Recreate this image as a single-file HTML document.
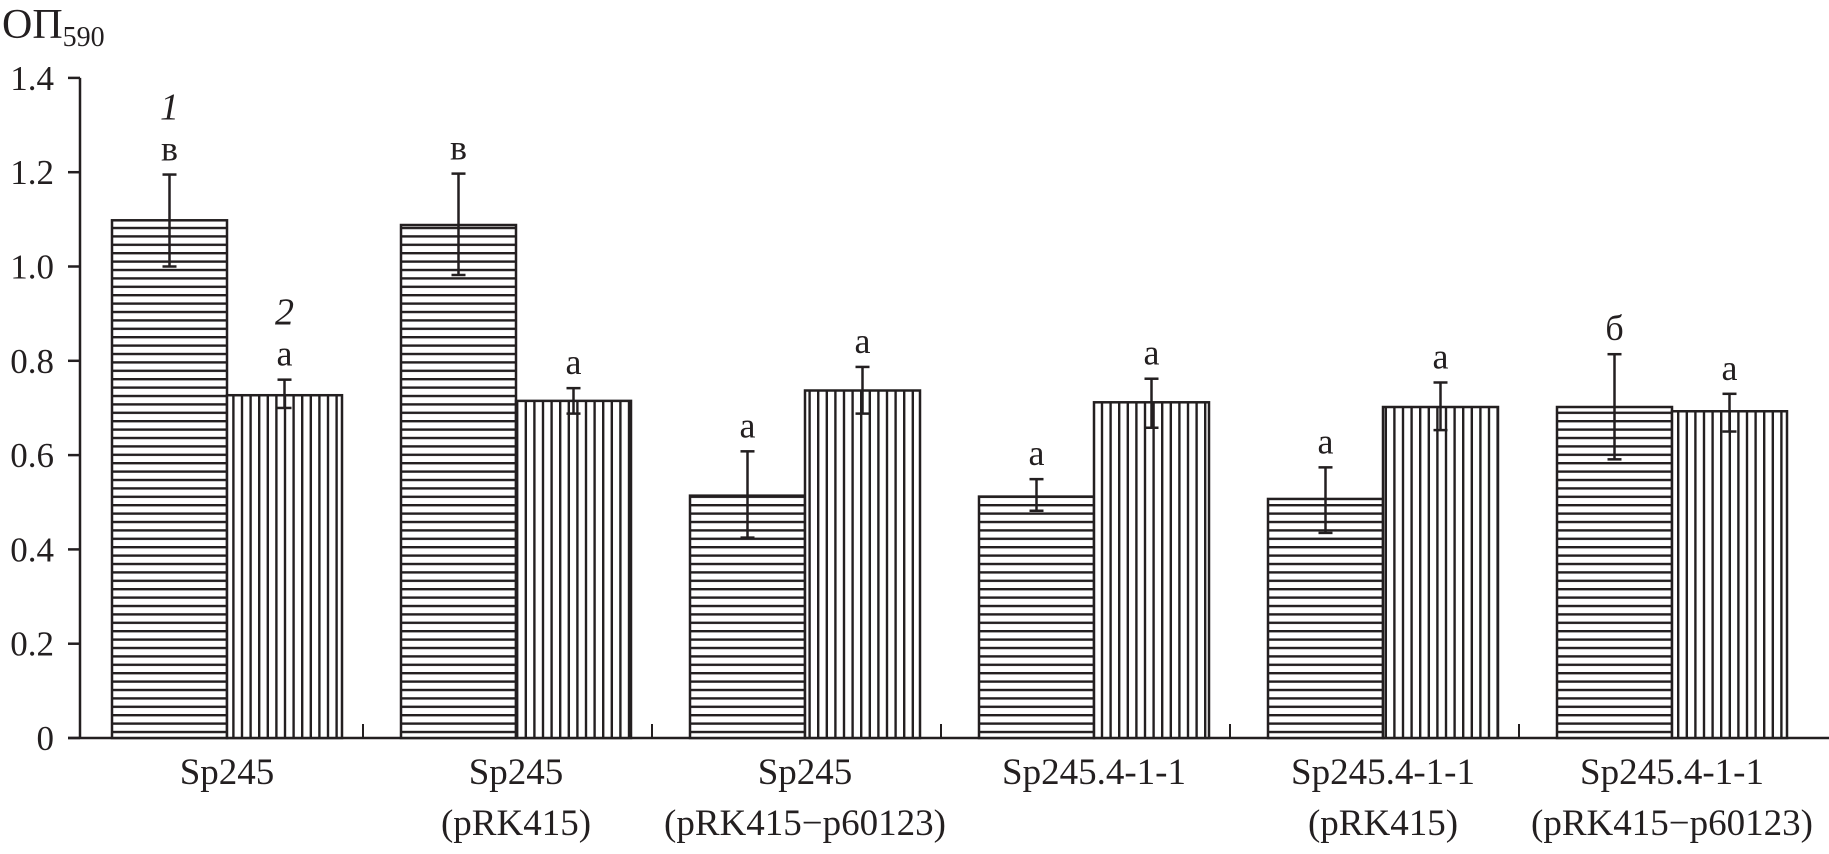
<!DOCTYPE html>
<html><head><meta charset="utf-8"><style>
body{margin:0;background:#fff}
svg text{font-family:"Liberation Serif",serif;fill:#231f20}
</style></head><body>
<svg id="chart" width="1829" height="849" viewBox="0 0 1829 849">
<defs>
<pattern id="ph" patternUnits="userSpaceOnUse" width="10" height="8.4"><rect width="10" height="8.4" fill="#fff"/><rect y="0" width="10" height="2.4" fill="#231f20"/></pattern>
<pattern id="pv" patternUnits="userSpaceOnUse" width="8.6" height="10"><rect width="8.6" height="10" fill="#fff"/><rect x="0" width="2.4" height="10" fill="#231f20"/></pattern>
</defs>
<text x="2" y="38" font-size="42">ОП<tspan font-size="28" dy="8">590</tspan></text>
<g id="axes"></g><g id="bars"></g>
</svg>
<script>
const categories=[["Sp245"],["Sp245","(pRK415)"],["Sp245","(pRK415\u2212p60123)"],["Sp245.4-1-1"],["Sp245.4-1-1","(pRK415)"],["Sp245.4-1-1","(pRK415\u2212p60123)"]];
const series1=[1.098,1.088,0.514,0.512,0.507,0.702];
const series1Hi=[1.195,1.197,0.608,0.549,0.574,0.814];
const series1Lo=[1.000,0.982,0.425,0.482,0.435,0.591];
const series1Labels=["в","в","а","а","а","б"];
const series2=[0.727,0.715,0.737,0.712,0.702,0.693];
const series2Hi=[0.760,0.742,0.787,0.762,0.754,0.730];
const series2Lo=[0.700,0.688,0.688,0.658,0.653,0.650];
const series2Labels=["а","а","а","а","а","а"];
const yTicks=[0,0.2,0.4,0.6,0.8,1.0,1.2,1.4];
const yTickLabels=["0","0.2","0.4","0.6","0.8","1.0","1.2","1.4"];

const NS="http://www.w3.org/2000/svg";
const X0=80,Y0=738,YPX=471.5,PITCH=289,FIRST=32,BW=115;
const y=v=>Y0-v*YPX;
const catStart=i=>X0+i*PITCH;
function mk(tag,attrs,parent,txt){const e=document.createElementNS(NS,tag);for(const k in attrs)e.setAttribute(k,attrs[k]);if(txt!==undefined)e.textContent=txt;parent.appendChild(e);return e;}
const axes=document.getElementById('axes'),bars=document.getElementById('bars');
let e=mk('line',{x1:X0,y1:y(1.4),x2:X0,y2:Y0,stroke:'#231f20','stroke-width':2.5},axes);


e=mk('line',{x1:X0-12,y1:Y0,x2:1829,y2:Y0,stroke:'#231f20','stroke-width':2.5},axes);


yTicks.forEach((t,i)=>{
 let l=mk('line',{x1:X0-12,y1:y(t),x2:X0,y2:y(t),stroke:'#231f20','stroke-width':2.5},axes);
 
 
 let tx=mk('text',{x:X0-26,y:y(t)+12,'font-size':35,'text-anchor':'end'},axes,yTickLabels[i]);
 
 
});
categories.forEach((c,i)=>{
 if(i>0){let l=mk('line',{x1:catStart(i)+FIRST-38,y1:Y0-14,x2:catStart(i)+FIRST-38,y2:Y0,stroke:'#231f20','stroke-width':2},axes);
 
 }
 const cx=catStart(i)+FIRST+BW;
 c.forEach((line,j)=>{let t=mk('text',{x:cx,y:784+j*51,'font-size':37,'text-anchor':'middle'},axes,line);
 
 });
 const sets=[[series1,series1Hi,series1Lo,series1Labels,'url(#ph)',0],[series2,series2Hi,series2Lo,series2Labels,'url(#pv)',1]];
 sets.forEach(([v,hi,lo,lab,fill,k])=>{
  const bx=catStart(i)+FIRST+k*BW;
  let r=mk('rect',{x:bx,y:y(v[i]),width:BW,height:Y0-y(v[i]),fill:fill,stroke:'#231f20','stroke-width':2.5},bars);
  
  
  const mx=bx+BW/2;
  let g=mk('g',{stroke:'#231f20','stroke-width':2.5},bars);
  
  
  mk('line',{x1:mx,y1:y(hi[i]),x2:mx,y2:y(lo[i])},g);
  mk('line',{x1:mx-7,y1:y(hi[i]),x2:mx+7,y2:y(hi[i])},g);
  mk('line',{x1:mx-7,y1:y(lo[i]),x2:mx+7,y2:y(lo[i])},g);
  let t=mk('text',{x:mx,y:y(hi[i])-14,'font-size':36,'text-anchor':'middle'},bars,lab[i]);
  
  
  if(i===0){let s=mk('text',{x:mx,y:y(hi[i])-55,'font-size':38,'font-style':'italic','text-anchor':'middle'},bars,String(k+1));
  
  }
 });
});
</script>
</body></html>
